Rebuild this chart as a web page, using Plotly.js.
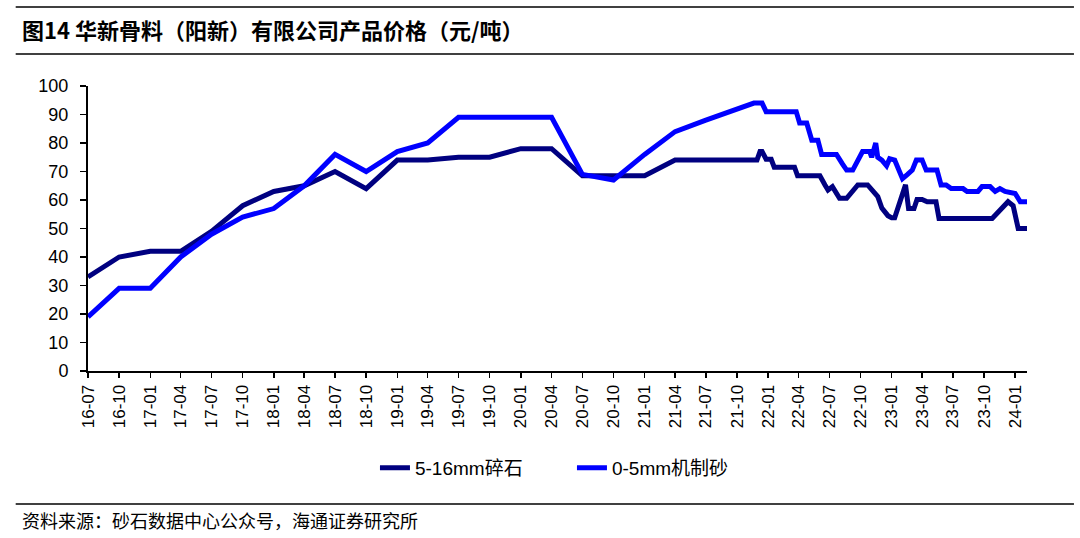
<!DOCTYPE html>
<html>
<head>
<meta charset="utf-8">
<script src="https://cdn.plot.ly/plotly-3.0.1.min.js"></script>
<style>
html,body{margin:0;padding:0;background:#fff;}
#chart{width:1080px;height:538px;}
</style>
</head>
<body>
<div id="chart"></div>
<script>
// ---- data ----
const titleText = '图<b>14</b> 华新骨料（阳新）有限公司产品价格（元/吨）';
const sourceText = '资料来源：砂石数据中心公众号，海通证券研究所';
const seriesNames = ['5-16mm碎石', '0-5mm机制砂'];

const gravelDates = [
  '2016-07-01','2016-10-01','2017-01-01','2017-04-01','2017-07-01','2017-10-01',
  '2018-01-01','2018-04-01','2018-07-01','2018-10-01','2019-01-01','2019-04-01',
  '2019-07-01','2019-10-01','2020-01-01','2020-04-01','2020-07-01','2020-10-01',
  '2021-01-01','2021-04-01','2021-07-01','2021-10-01','2021-11-29','2021-12-08',
  '2021-12-14','2021-12-26','2022-01-10','2022-01-19','2022-03-20','2022-03-29',
  '2022-06-03','2022-06-18','2022-06-27','2022-07-10','2022-07-22','2022-07-31',
  '2022-08-21','2022-09-23','2022-10-22','2022-11-06','2022-11-21','2022-12-03',
  '2022-12-21','2023-01-01','2023-01-10','2023-02-11','2023-02-20','2023-03-08',
  '2023-03-17','2023-04-01','2023-04-16','2023-05-12','2023-05-21','2023-10-25',
  '2023-11-03','2023-11-17','2023-11-26','2023-12-11','2023-12-26','2024-01-10',
  '2024-02-05'
];
const gravelValues = [
  33, 40, 42, 42, 49, 58,
  63, 65, 70, 64, 74, 74,
  75, 75, 78, 78, 68.5, 68.5,
  68.5, 74, 74, 74, 74, 77,
  77, 74.3, 74.3, 71.5, 71.5, 68.5,
  68.5, 65.3, 63.5, 64.7, 62.3, 60.6,
  60.6, 65.3, 65.3, 63.5, 61.2, 57.2,
  54.5, 53.8, 53.8, 65.3, 57, 57,
  60.2, 60.2, 59.4, 59.4, 53.5, 53.5,
  54.7, 56, 57.6, 59.4, 58, 50,
  50
];

const sandDates = [
  '2016-07-01','2016-10-01','2017-01-01','2017-04-01','2017-07-01','2017-10-01',
  '2018-01-01','2018-04-01','2018-07-01','2018-10-01','2019-01-01','2019-04-01',
  '2019-07-01','2019-10-01','2020-01-01','2020-04-01','2020-07-01','2020-10-01',
  '2021-01-01','2021-04-01','2021-07-01','2021-10-01','2021-11-20','2021-12-14',
  '2021-12-26','2022-03-25','2022-04-04','2022-04-25','2022-05-10','2022-05-28',
  '2022-06-08','2022-07-22','2022-07-31','2022-08-09','2022-08-21','2022-09-08',
  '2022-10-07','2022-10-28','2022-11-03','2022-11-15','2022-11-21','2022-12-03',
  '2022-12-17','2022-12-26','2023-01-10','2023-02-02','2023-02-17','2023-03-03',
  '2023-03-15','2023-04-01','2023-04-13','2023-05-15','2023-05-27','2023-06-11',
  '2023-06-26','2023-07-31','2023-08-12','2023-09-13','2023-09-25','2023-10-19',
  '2023-11-03','2023-11-17','2023-12-02','2023-12-23','2024-01-01','2024-01-16',
  '2024-02-05'
];
const sandValues = [
  19, 29, 29, 40, 48, 54,
  57, 65, 76, 70, 77, 80,
  89, 89, 89, 89, 69, 67,
  76, 84, 88, 92, 94, 94,
  91, 91, 87, 87, 81, 81,
  76, 76, 74, 72.6, 70.5, 70.5,
  77, 77, 75, 80, 75, 74,
  72, 74.5, 74, 67.5, 69, 70.5,
  74, 74, 70.5, 70.5, 65.3, 65.3,
  64, 64, 63, 63, 64.7, 64.7,
  63, 64, 63, 62.3, 62.3, 59.4,
  59.4
];

const xStart = '2016-07-01';
const xEnd = '2024-02-05';
const yMin = 0, yMax = 100, yStep = 10;

// ---- chart ----
const baseFont = 'Liberation Sans, Arial, "Noto Sans CJK SC", sans-serif';
const cjkFont = '"Liberation Sans", Arial, "Noto Sans CJK SC", sans-serif';

const traces = [
  {
    x: gravelDates, y: gravelValues, name: seriesNames[0],
    type: 'scatter', mode: 'lines',
    line: {color: '#000080', width: 5, shape: 'linear'}
  },
  {
    x: sandDates, y: sandValues, name: seriesNames[1],
    type: 'scatter', mode: 'lines',
    line: {color: '#0000FF', width: 5, shape: 'linear'}
  }
];

const layout = {
  width: 1080, height: 538,
  margin: {l: 88, r: 53, t: 86, b: 167},
  paper_bgcolor: '#ffffff', plot_bgcolor: '#ffffff',
  font: {family: baseFont, color: '#000', size: 18},
  showlegend: true,
  legend: {
    orientation: 'h', x: 0.3056, xanchor: 'left', y: -0.34, yanchor: 'middle',
    font: {family: cjkFont, size: 19, color: '#000'},
    entrywidth: 152, entrywidthmode: 'pixels', traceorder: 'normal'
  },
  xaxis: {
    type: 'date', range: [xStart, xEnd],
    tick0: xStart, dtick: 'M3', tickformat: '%y-%m',
    tickangle: -90, ticks: 'outside', ticklen: 5, tickwidth: 1.5, tickcolor: '#000',
    showline: true, linecolor: '#000', linewidth: 2,
    showgrid: false, zeroline: false,
    tickfont: {family: baseFont, size: 17, color: '#000'}
  },
  yaxis: {
    range: [yMin, yMax], dtick: yStep, tick0: 0,
    ticks: 'outside', ticklen: 6, tickwidth: 1.5, tickcolor: '#000',
    showline: true, linecolor: '#000', linewidth: 2,
    showgrid: false, zeroline: false,
    ticklabelstandoff: 8,
    tickfont: {family: baseFont, size: 18, color: '#000'}
  },
  shapes: [
    {type: 'line', xref: 'paper', yref: 'paper', x0: -0.077, x1: 1.05, y0: 1.277, y1: 1.277,
     line: {color: '#404040', width: 2}},
    {type: 'line', xref: 'paper', yref: 'paper', x0: -0.077, x1: 1.05, y0: 1.112, y1: 1.112,
     line: {color: '#404040', width: 2}},
    {type: 'line', xref: 'paper', yref: 'paper', x0: -0.077, x1: 1.05, y0: -0.467, y1: -0.467,
     line: {color: '#404040', width: 2}}
  ],
  annotations: [
    {text: titleText, xref: 'paper', yref: 'paper', x: -0.072, y: 1.2, xanchor: 'left', yanchor: 'middle',
     showarrow: false, font: {family: '"Noto Sans CJK SC", sans-serif', size: 22, color: '#000', weight: 'bold'}},
    {text: sourceText, xref: 'paper', yref: 'paper', x: -0.072, y: -0.523, xanchor: 'left', yanchor: 'middle',
     showarrow: false, font: {family: '"Noto Sans CJK SC", sans-serif', size: 18, color: '#000'}}
  ]
};

Plotly.newPlot('chart', traces, layout, {staticPlot: true, displayModeBar: false});
</script>
</body>
</html>
